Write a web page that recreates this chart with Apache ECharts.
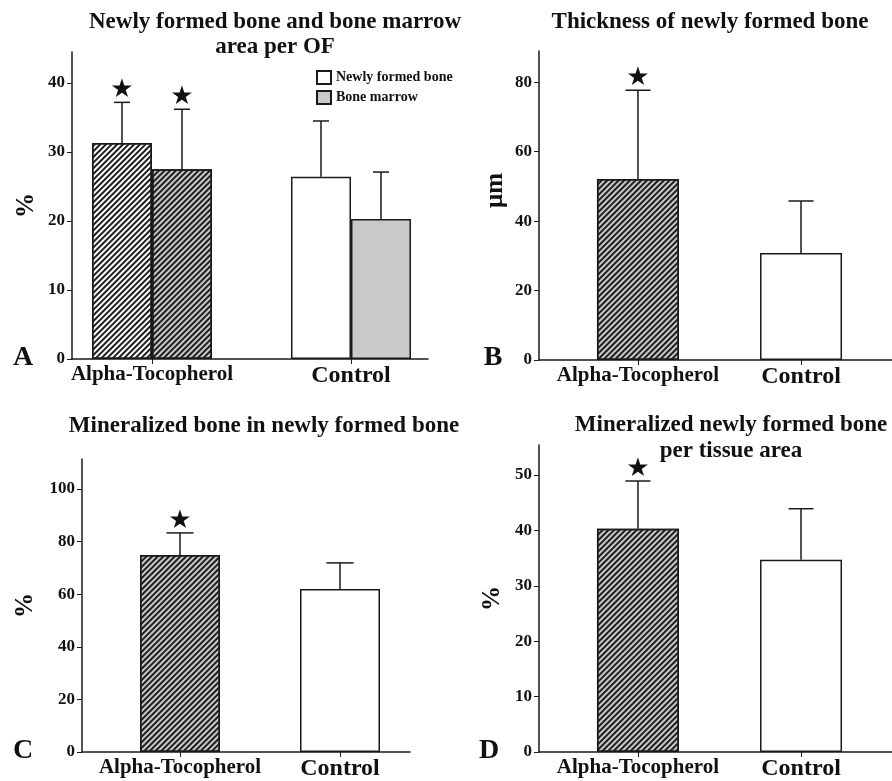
<!DOCTYPE html>
<html>
<head>
<meta charset="utf-8">
<script src="https://cdn.jsdelivr.net/npm/echarts@6/dist/echarts.min.js"></script>
<style>
html,body{margin:0;padding:0;background:#fff;}
#chart{width:892px;height:781px;}
</style>
</head>
<body>
<div id="chart"></div>
<script>
// ---------- data ----------
const categories = ['Alpha-Tocopherol', 'Control'];

// Panel A: Newly formed bone and bone marrow area per OF (%)
const aNewBone = [31.3, 26.4];
const aNewBoneErr = [5.9, 8.1];
const aNewBoneStar = [1, 0];
const aMarrow = [27.5, 20.3];
const aMarrowErr = [8.7, 6.8];
const aMarrowStar = [1, 0];
const aTicks = [0, 10, 20, 30, 40];

// Panel B: Thickness of newly formed bone (µm)
const bThick = [52.1, 30.8];
const bThickErr = [25.6, 15.0];
const bStar = [1, 0];
const bTicks = [0, 20, 40, 60, 80];

// Panel C: Mineralized bone in newly formed bone (%)
const cMin = [74.9, 62.0];
const cMinErr = [8.4, 9.9];
const cStar = [1, 0];
const cTicks = [0, 20, 40, 60, 80, 100];

// Panel D: Mineralized newly formed bone per tissue area (%)
const dMin = [40.3, 34.7];
const dMinErr = [8.6, 9.2];
const dStar = [1, 0];
const dTicks = [0, 10, 20, 30, 40, 50];

// ---------- styles ----------
const SERIF = '"Liberation Serif","Times New Roman",serif';
const INK = '#1a1a1a';
const GRAY = '#c9c9c9';
function hatch(bg) {
  return {
    color: bg, borderColor: INK, borderWidth: 1.5,
    decal: { symbol: 'rect', symbolSize: 1, dashArrayX: [1, 0], dashArrayY: [1.6, 1.9], rotation: -Math.PI / 4, color: '#1e1e1e' }
  };
}
const plainWhite = { color: '#fff', borderColor: INK, borderWidth: 1.5 };
const plainGray = { color: GRAY, borderColor: INK, borderWidth: 1.5 };

function barData(vals, hatchBg) {
  return vals.map((v, i) => ({ value: [i, v], itemStyle: i === 0 ? hatch(hatchBg) : undefined }));
}
function errData(vals, errs, stars) {
  return vals.map((v, i) => [i, v, errs[i], stars[i]]);
}
function errRender(offsetPx, capHalf, starSize) {
  return function (params, api) {
    const x = api.value(0), v = api.value(1), e = api.value(2), star = api.value(3);
    const base = api.coord([x, v]);
    const top = api.coord([x, v + e]);
    const cx = base[0] + offsetPx;
    const ls = { stroke: INK, lineWidth: 1.5 };
    const children = [
      { type: 'line', shape: { x1: cx, y1: base[1], x2: cx, y2: top[1] }, style: ls },
      { type: 'line', shape: { x1: cx - capHalf, y1: top[1], x2: cx + capHalf, y2: top[1] }, style: ls }
    ];
    if (star) {
      children.push({ type: 'text', x: cx, y: top[1] - 12, style: { text: '★', fill: '#111', font: starSize + 'px "DejaVu Sans"', align: 'center', verticalAlign: 'middle' } });
    }
    return { type: 'group', children };
  };
}

function xAxisCfg(gridIndex, min, max) {
  return {
    type: 'value', gridIndex, min, max,
    splitLine: { show: false },
    axisLine: { show: true, onZero: false, lineStyle: { color: INK, width: 1.5 } },
    axisTick: { show: true, customValues: [0, 1], length: 5, lineStyle: { color: INK, width: 1 } },
    axisLabel: {
      customValues: [0, 1], margin: 5,
      formatter: v => (Math.round(v) === 0 ? '{a|' + categories[0] + '}' : '{c|' + categories[1] + '}'),
      rich: {
        a: { fontFamily: SERIF, fontWeight: 'bold', fontSize: 21, color: '#111' },
        c: { fontFamily: SERIF, fontWeight: 'bold', fontSize: 24, color: '#111' }
      }
    }
  };
}
function yAxisCfg(gridIndex, max, ticks, name, nameGap, pad) {
  return {
    type: 'value', gridIndex, min: 0, max,
    name, nameLocation: 'middle', nameRotate: 90, nameGap,
    nameTextStyle: { fontFamily: SERIF, fontWeight: 'bold', fontSize: 25, color: '#111', padding: pad || 0 },
    splitLine: { show: false },
    axisLine: { show: true, onZero: false, lineStyle: { color: INK, width: 1.5 } },
    axisTick: { show: true, customValues: ticks, length: 5, lineStyle: { color: INK, width: 1 } },
    axisLabel: { customValues: ticks, margin: 7, fontFamily: SERIF, fontWeight: 'bold', fontSize: 17, color: '#111' }
  };
}
function label(text, x, y, size) {
  return { type: 'text', x, y, style: { text, font: 'bold ' + size + 'px ' + SERIF, fill: '#111', align: 'center', verticalAlign: 'middle' } };
}

const option = {
  animation: false,
  backgroundColor: '#fff',
  grid: [
    { left: 72, top: 52, width: 356, height: 307 },
    { left: 539, top: 51, width: 353, height: 309 },
    { left: 82, top: 459, width: 328, height: 293 },
    { left: 539, top: 445, width: 353, height: 308 }
  ],
  xAxis: [
    xAxisCfg(0, -0.402, 1.387),
    xAxisCfg(1, -0.607, 1.558),
    xAxisCfg(2, -0.6125, 1.4375),
    xAxisCfg(3, -0.607, 1.558)
  ],
  yAxis: [
    yAxisCfg(0, 44.5, aTicks, '%', 33),
    yAxisCfg(1, 89, bTicks, 'μm', 31, [0, 0, 0, 30]),
    yAxisCfg(2, 111.4, cTicks, '%', 44),
    yAxisCfg(3, 55.4, dTicks, '%', 34)
  ],
  legend: {
    data: ['Newly formed bone', 'Bone marrow'],
    orient: 'vertical', left: 316, top: 70, padding: 0,
    itemWidth: 14, itemHeight: 13, itemGap: 5, icon: 'rect',
    selectedMode: false,
    textStyle: { fontFamily: SERIF, fontWeight: 'bold', fontSize: 14, color: '#111' }
  },
  graphic: [
    label('Newly formed bone and bone marrow', 275, 22, 23),
    label('area per OF', 275, 47.5, 23),
    label('Thickness of newly formed bone', 710, 22, 23),
    label('Mineralized bone in newly formed bone', 264, 426, 23),
    label('Mineralized newly formed bone', 731, 425, 23),
    label('per tissue area', 731, 451, 23),
    label('A', 23, 357.5, 28),
    label('B', 493, 357.5, 28),
    label('C', 23, 751, 28),
    label('D', 489, 751, 28)
  ],
  series: [
    { name: 'Newly formed bone', type: 'bar', xAxisIndex: 0, yAxisIndex: 0, barWidth: 60, itemStyle: plainWhite, data: barData(aNewBone, '#ffffff') },
    { name: 'Bone marrow', type: 'bar', xAxisIndex: 0, yAxisIndex: 0, barWidth: 60, barGap: '0%', itemStyle: plainGray, data: barData(aMarrow, GRAY) },
    { type: 'custom', xAxisIndex: 0, yAxisIndex: 0, z: 5, renderItem: errRender(-30, 8, 26), encode: { x: 0, y: 1 }, data: errData(aNewBone, aNewBoneErr, aNewBoneStar) },
    { type: 'custom', xAxisIndex: 0, yAxisIndex: 0, z: 5, renderItem: errRender(30, 8, 26), encode: { x: 0, y: 1 }, data: errData(aMarrow, aMarrowErr, aMarrowStar) },

    { name: 'Thickness', type: 'bar', xAxisIndex: 1, yAxisIndex: 1, barWidth: 82, itemStyle: plainWhite, data: barData(bThick, GRAY) },
    { type: 'custom', xAxisIndex: 1, yAxisIndex: 1, z: 5, renderItem: errRender(0, 12.5, 26), encode: { x: 0, y: 1 }, data: errData(bThick, bThickErr, bStar) },

    { name: 'Mineralized bone', type: 'bar', xAxisIndex: 2, yAxisIndex: 2, barWidth: 80, itemStyle: plainWhite, data: barData(cMin, GRAY) },
    { type: 'custom', xAxisIndex: 2, yAxisIndex: 2, z: 5, renderItem: errRender(0, 13.5, 26), encode: { x: 0, y: 1 }, data: errData(cMin, cMinErr, cStar) },

    { name: 'Mineralized per tissue', type: 'bar', xAxisIndex: 3, yAxisIndex: 3, barWidth: 82, itemStyle: plainWhite, data: barData(dMin, GRAY) },
    { type: 'custom', xAxisIndex: 3, yAxisIndex: 3, z: 5, renderItem: errRender(0, 12.5, 26), encode: { x: 0, y: 1 }, data: errData(dMin, dMinErr, dStar) }
  ]
};

const chart = echarts.init(document.getElementById('chart'), null, { renderer: 'canvas' });
chart.setOption(option);
</script>
</body>
</html>
